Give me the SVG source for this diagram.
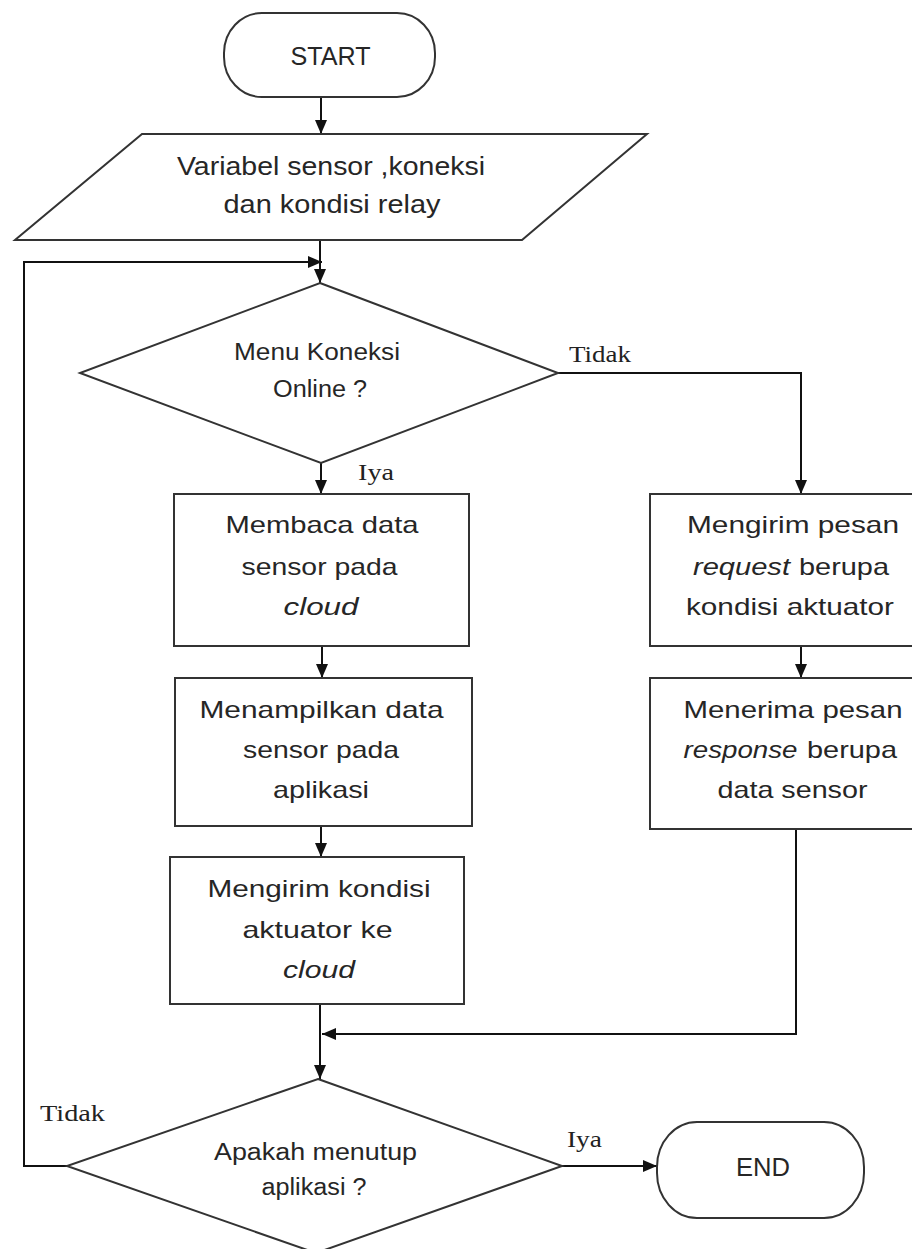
<svg xmlns="http://www.w3.org/2000/svg" width="912" height="1249" viewBox="0 0 912 1249">
<style>
.shape{fill:#fff;stroke:#333;stroke-width:2}
.conn{fill:none;stroke:#111;stroke-width:2}
.t{font-family:"Liberation Sans",Arial,sans-serif;fill:#262626;text-anchor:middle}
.s{font-family:"Liberation Serif","Times New Roman",serif;fill:#222;font-size:24px}
.b{font-size:24px}
.d{font-size:23px}
.i{font-style:italic}
</style>
<defs>
<marker id="arr" markerUnits="userSpaceOnUse" markerWidth="16" markerHeight="14" refX="14" refY="6" orient="auto">
<path d="M0,0 L14,6 L0,12 Z" fill="#111"/>
</marker>
</defs>
<g id="connectors">
<line class="conn" x1="321" y1="97" x2="321" y2="134" marker-end="url(#arr)"/>
<line class="conn" x1="320" y1="240" x2="320" y2="283" marker-end="url(#arr)"/>
<polyline class="conn" points="67,1166 24,1166 24,262 322,262" marker-end="url(#arr)"/>
<polyline class="conn" points="558,373 801,373 801,494" marker-end="url(#arr)"/>
<line class="conn" x1="321" y1="463" x2="321" y2="494" marker-end="url(#arr)"/>
<line class="conn" x1="322" y1="646" x2="322" y2="678" marker-end="url(#arr)"/>
<line class="conn" x1="321" y1="826" x2="321" y2="857" marker-end="url(#arr)"/>
<line class="conn" x1="320" y1="1004" x2="320" y2="1079" marker-end="url(#arr)"/>
<line class="conn" x1="801" y1="646" x2="801" y2="678" marker-end="url(#arr)"/>
<polyline class="conn" points="796,829 796,1034 322,1034" marker-end="url(#arr)"/>
<line class="conn" x1="562" y1="1166" x2="657" y2="1166" marker-end="url(#arr)"/>
<text class="s" x="569" y="362" textLength="62" lengthAdjust="spacingAndGlyphs">Tidak</text>
<text class="s" x="358" y="480" textLength="36" lengthAdjust="spacingAndGlyphs">Iya</text>
<text class="s" x="40" y="1121" textLength="65" lengthAdjust="spacingAndGlyphs">Tidak</text>
<text class="s" x="567" y="1147" textLength="35" lengthAdjust="spacingAndGlyphs">Iya</text>
</g>
<g id="start">
<rect class="shape" x="224" y="13" width="211" height="84" rx="38" ry="40"/>
<text class="t" x="330.5" y="65" font-size="26" textLength="80" lengthAdjust="spacingAndGlyphs">START</text>
</g>
<g id="input">
<polygon class="shape" points="142,134 647,134 522,240 15,240"/>
<text class="t" x="331" y="175" font-size="26" textLength="308" lengthAdjust="spacingAndGlyphs">Variabel sensor ,koneksi</text>
<text class="t" x="332" y="213" font-size="26" textLength="217" lengthAdjust="spacingAndGlyphs">dan kondisi relay</text>
</g>
<g id="decision1">
<polygon class="shape" points="320,283 558,373 321,463 80,373"/>
<text class="t d" x="317" y="360" textLength="166" lengthAdjust="spacingAndGlyphs">Menu Koneksi</text>
<text class="t d" x="320" y="397" textLength="94" lengthAdjust="spacingAndGlyphs">Online ?</text>
</g>
<g id="box1">
<rect class="shape" x="174" y="494" width="295" height="152"/>
<text class="t b" x="322" y="533" textLength="193" lengthAdjust="spacingAndGlyphs">Membaca data</text>
<text class="t b" x="319.5" y="575" textLength="156" lengthAdjust="spacingAndGlyphs">sensor pada</text>
<text class="t b i" x="321" y="615" textLength="75" lengthAdjust="spacingAndGlyphs">cloud</text>
</g>
<g id="box2">
<rect class="shape" x="175" y="678" width="297" height="148"/>
<text class="t b" x="321.5" y="718" textLength="244" lengthAdjust="spacingAndGlyphs">Menampilkan data</text>
<text class="t b" x="321" y="758" textLength="156" lengthAdjust="spacingAndGlyphs">sensor pada</text>
<text class="t b" x="321" y="798" textLength="96" lengthAdjust="spacingAndGlyphs">aplikasi</text>
</g>
<g id="box3">
<rect class="shape" x="170" y="857" width="294" height="147"/>
<text class="t b" x="319" y="897" textLength="223" lengthAdjust="spacingAndGlyphs">Mengirim kondisi</text>
<text class="t b" x="317.5" y="938" textLength="150" lengthAdjust="spacingAndGlyphs">aktuator ke</text>
<text class="t b i" x="319" y="978" textLength="72" lengthAdjust="spacingAndGlyphs">cloud</text>
</g>
<g id="box4">
<rect class="shape" x="650" y="494" width="290" height="152"/>
<text class="t b" x="793" y="533" textLength="212" lengthAdjust="spacingAndGlyphs">Mengirim pesan</text>
<text class="t b" style="text-anchor:start" y="575"><tspan class="i" x="693" textLength="97" lengthAdjust="spacingAndGlyphs">request</tspan><tspan x="799" textLength="90" lengthAdjust="spacingAndGlyphs">berupa</tspan></text>
<text class="t b" x="790" y="615" textLength="208" lengthAdjust="spacingAndGlyphs">kondisi aktuator</text>
</g>
<g id="box5">
<rect class="shape" x="650" y="678" width="290" height="151"/>
<text class="t b" x="793" y="718" textLength="219" lengthAdjust="spacingAndGlyphs">Menerima pesan</text>
<text class="t b" style="text-anchor:start" y="758"><tspan class="i" x="683.5" textLength="114" lengthAdjust="spacingAndGlyphs">response</tspan><tspan x="807" textLength="90" lengthAdjust="spacingAndGlyphs">berupa</tspan></text>
<text class="t b" x="792.5" y="798" textLength="150" lengthAdjust="spacingAndGlyphs">data sensor</text>
</g>
<g id="decision2">
<polygon class="shape" points="318,1079 562,1166 316,1253 67,1166"/>
<text class="t d" x="315.5" y="1160" textLength="203" lengthAdjust="spacingAndGlyphs">Apakah menutup</text>
<text class="t d" x="314" y="1195" textLength="105" lengthAdjust="spacingAndGlyphs">aplikasi ?</text>
</g>
<g id="end">
<rect class="shape" x="657" y="1122" width="207" height="96" rx="40" ry="45"/>
<text class="t" x="763" y="1176" font-size="26" textLength="54" lengthAdjust="spacingAndGlyphs">END</text>
</g>
</svg>
